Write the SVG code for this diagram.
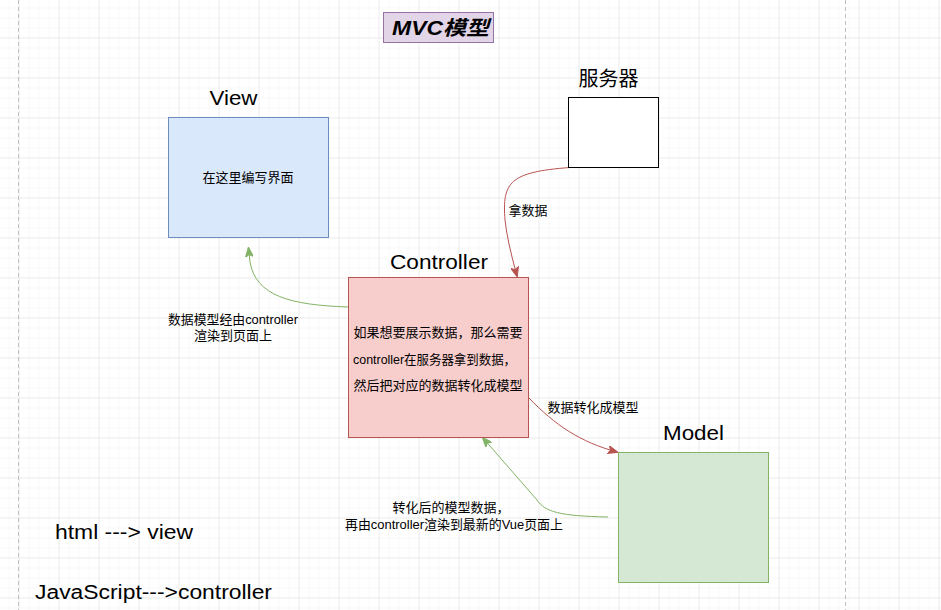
<svg xmlns="http://www.w3.org/2000/svg" width="941" height="610" viewBox="0 0 941 610">
<style>
text{font-family:"Liberation Sans","Noto Sans CJK SC",sans-serif;fill:#000}
.lbl{font-size:20px;text-anchor:middle}
.sm{font-size:13px;text-anchor:middle}
.red{fill:none;stroke:#b85450;stroke-width:1}
.grn{fill:none;stroke:#82b366;stroke-width:1}
</style>
<defs>
<pattern id="minor" x="18" y="37" width="10" height="10" patternUnits="userSpaceOnUse">
<path d="M0,0 H10 M0,0 V10" fill="none" stroke="#f3f3f3" stroke-width="1"/>
</pattern>
<pattern id="major" x="18.5" y="37.5" width="40" height="40" patternUnits="userSpaceOnUse">
<path d="M0,0 H40 M0,0 V40" fill="none" stroke="#e0e0e0" stroke-width="1"/>
</pattern>
<marker id="arR" viewBox="0 0 10 8" refX="9" refY="4" markerWidth="10" markerHeight="8" markerUnits="userSpaceOnUse" orient="auto">
<path d="M0,0 L10,4 L0,8 L2.5,4 z" fill="#b85450" stroke="#b85450"/>
</marker>
<marker id="arG" viewBox="0 0 10 8" refX="9" refY="4" markerWidth="10" markerHeight="8" markerUnits="userSpaceOnUse" orient="auto">
<path d="M0,0 L10,4 L0,8 L2.5,4 z" fill="#82b366" stroke="#82b366"/>
</marker>
</defs>
<rect width="941" height="610" fill="#ffffff"/>
<rect width="941" height="610" fill="url(#minor)" transform="translate(0.5,0.5)"/>
<rect width="941" height="610" fill="url(#major)"/>
<path d="M18.5,0 V610 M845.5,0 V610" stroke="#c0c0c0" stroke-dasharray="4,3" stroke-width="1"/>

<g id="connectors">
<path class="red" d="M570,167.5 C510,172 502,182 505,220 Q507,240 517,276" marker-end="url(#arR)"/>
<text class="sm" x="528" y="215">拿数据</text>
<path class="grn" d="M348.5,307 C290,305 256,296 250,262 L248.5,248" marker-end="url(#arG)"/>
<text class="sm" x="233" y="324" textLength="130" lengthAdjust="spacingAndGlyphs">数据模型经由controller</text>
<text class="sm" x="233" y="340">渲染到页面上</text>
<path class="red" d="M529,398 C555,425 580,442 617,452" marker-end="url(#arR)"/>
<text class="sm" x="593" y="412">数据转化成模型</text>
<path class="grn" d="M608,517 C560,516 545,512 537,500 L483,438" marker-end="url(#arG)"/>
<text class="sm" x="451" y="512" font-size="12.5">转化后的模型数据，</text>
<text class="sm" x="454" y="529" font-size="12.5" textLength="218" lengthAdjust="spacingAndGlyphs">再由controller渲染到最新的Vue页面上</text>
</g>

<g id="title">
<rect x="383.5" y="12.5" width="110" height="30" fill="#e1d5e7" stroke="#9673a6"/>
<text x="440.5" y="35" class="lbl" font-size="21" font-weight="bold" font-style="italic" textLength="97" lengthAdjust="spacingAndGlyphs">MVC模型</text>
</g>

<g id="view">
<text x="233.5" y="105" class="lbl" textLength="48" lengthAdjust="spacingAndGlyphs">View</text>
<rect x="168.5" y="117.5" width="160" height="120" fill="#dae8fc" stroke="#6c8ebf"/>
<text x="248" y="181.5" class="sm" font-size="12">在这里编写界面</text>
</g>

<g id="server">
<text x="608.5" y="85.5" class="lbl" font-size="24">服务器</text>
<rect x="568.5" y="97.5" width="90" height="70" fill="#ffffff" stroke="#000000"/>
</g>

<g id="controller">
<text x="439" y="269" class="lbl" textLength="98" lengthAdjust="spacingAndGlyphs">Controller</text>
<rect x="348.5" y="277.5" width="180" height="160" fill="#f8cecc" stroke="#b85450"/>
<text x="438" y="337" class="sm">如果想要展示数据，那么需要</text>
<text x="434.5" y="363.5" class="sm" textLength="163" lengthAdjust="spacingAndGlyphs">controller在服务器拿到数据，</text>
<text x="438" y="390" class="sm">然后把对应的数据转化成模型</text>
</g>

<g id="model">
<text x="693.5" y="440" class="lbl" textLength="61" lengthAdjust="spacingAndGlyphs">Model</text>
<rect x="618.5" y="452.5" width="150" height="130" fill="#d5e8d4" stroke="#82b366"/>
</g>

<g id="notes">
<text x="55" y="539" font-size="20" textLength="138" lengthAdjust="spacingAndGlyphs">html ---&gt; view</text>
<text x="35" y="599" font-size="20" textLength="237" lengthAdjust="spacingAndGlyphs">JavaScript---&gt;controller</text>
</g>
</svg>
